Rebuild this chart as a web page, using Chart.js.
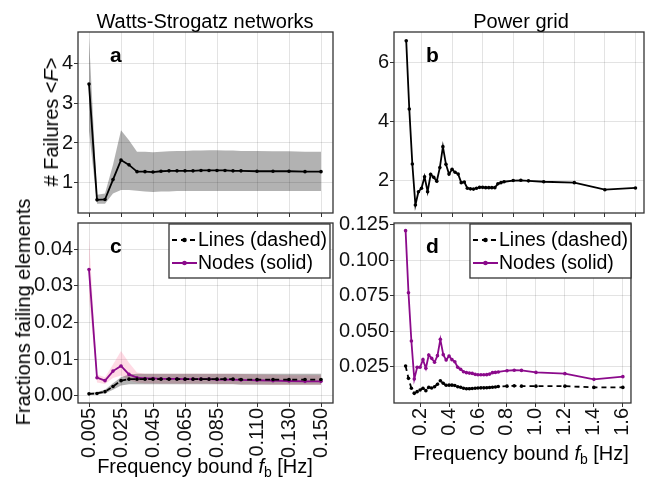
<!DOCTYPE html>
<html>
<head>
<meta charset="utf-8">
<script src="https://cdn.jsdelivr.net/npm/chart.js@4.4.1/dist/chart.umd.min.js"></script>
<style>
  body { margin: 0; background: #fff; }
  #wrap { position: relative; width: 648px; height: 483px; font-family: "Liberation Sans", Arial, sans-serif; color: #000; }
  canvas { position: absolute; left: 0; top: 0; }
  .lbl { position: absolute; font-size: 20px; line-height: 20px; white-space: nowrap; transform: translate(-50%, -50%); }
  .rot { transform: translate(-50%, -50%) rotate(-90deg); }
  .sub { font-size: 0.7em; position: relative; top: 0.3em; }
</style>
</head>
<body>
<div id="wrap">
  <canvas id="ca" width="648" height="483"></canvas>
  <canvas id="cb" width="648" height="483"></canvas>
  <canvas id="cc" width="648" height="483"></canvas>
  <canvas id="cd" width="648" height="483"></canvas>
  <div class="lbl" style="left:205px;top:21px">Watts-Strogatz networks</div>
  <div class="lbl" style="left:521px;top:21px">Power grid</div>
  <div class="lbl rot" style="left:51px;top:122px"># Failures &lt;<i>F</i>&gt;</div>
  <div class="lbl rot" style="left:23px;top:312px">Fractions failing elements</div>
  <div class="lbl" style="left:205px;top:467px">Frequency bound <i>f</i><span class="sub">b</span> [Hz]</div>
  <div class="lbl" style="left:521px;top:454px">Frequency bound <i>f</i><span class="sub">b</span> [Hz]</div>
</div>
<script>
// Watts-Strogatz networks
const wsFreq = [0.005, 0.01, 0.015, 0.02, 0.025, 0.03, 0.035, 0.04, 0.045, 0.05, 0.055, 0.06, 0.065,
  0.07, 0.075, 0.08, 0.085, 0.09, 0.095, 0.1, 0.11, 0.12, 0.13, 0.14, 0.15];
const wsFailures = [3.48, 0.57, 0.58, 1.08, 1.57, 1.45, 1.28, 1.28, 1.27, 1.29, 1.3, 1.3, 1.3,
  1.3, 1.31, 1.31, 1.31, 1.31, 1.3, 1.3, 1.29, 1.29, 1.29, 1.28, 1.28];
const wsFailHi = [4.65, 0.7, 0.73, 1.45, 2.32, 2.07, 1.78, 1.78, 1.77, 1.78, 1.79, 1.8, 1.8,
  1.81, 1.81, 1.82, 1.82, 1.81, 1.81, 1.8, 1.8, 1.79, 1.79, 1.78, 1.78];
const wsFailLo = [2.3, 0.47, 0.47, 0.73, 0.82, 0.82, 0.8, 0.78, 0.77, 0.78, 0.78, 0.79, 0.79,
  0.79, 0.79, 0.79, 0.79, 0.79, 0.79, 0.79, 0.79, 0.79, 0.79, 0.79, 0.79];
const wsLines = [0.0005, 0.0006, 0.0011, 0.0025, 0.0041, 0.0045, 0.0045, 0.0045, 0.0045, 0.0045, 0.0045, 0.0045, 0.0045,
  0.0045, 0.0045, 0.0045, 0.0045, 0.0045, 0.0045, 0.0044, 0.0044, 0.0044, 0.0044, 0.0044, 0.0044];
const wsLinesHi = [0.0008, 0.001, 0.0016, 0.0034, 0.005, 0.0058, 0.006, 0.006, 0.006, 0.006, 0.006, 0.006, 0.006,
  0.006, 0.006, 0.006, 0.006, 0.006, 0.006, 0.006, 0.006, 0.006, 0.006, 0.006, 0.006];
const wsLinesLo = [0.0002, 0.0003, 0.0006, 0.0016, 0.0028, 0.0031, 0.0031, 0.0031, 0.0031, 0.0031, 0.0031, 0.0031, 0.0031,
  0.0031, 0.0031, 0.0031, 0.0031, 0.0031, 0.0031, 0.003, 0.003, 0.003, 0.003, 0.003, 0.003];
const wsNodes = [0.0344, 0.0049, 0.0041, 0.0067, 0.0081, 0.0058, 0.0049, 0.0047, 0.0047, 0.0046, 0.0046, 0.0046, 0.0045,
  0.0045, 0.0045, 0.0045, 0.0044, 0.0044, 0.0044, 0.0043, 0.0042, 0.0041, 0.004, 0.0039, 0.0039];
const wsNodesHi = [0.0433, 0.0058, 0.005, 0.0085, 0.0122, 0.009, 0.0063, 0.006, 0.006, 0.006, 0.006, 0.006, 0.006,
  0.006, 0.006, 0.006, 0.006, 0.006, 0.006, 0.0059, 0.0058, 0.0057, 0.0056, 0.0056, 0.0056];
const wsNodesLo = [0.027, 0.0036, 0.0032, 0.0048, 0.0055, 0.0042, 0.0036, 0.0034, 0.0034, 0.0033, 0.0033, 0.0033, 0.0033,
  0.0033, 0.0033, 0.0033, 0.0032, 0.0032, 0.0032, 0.0031, 0.0031, 0.003, 0.003, 0.003, 0.003];
const wsTicks = [0.005, 0.025, 0.045, 0.065, 0.085, 0.11, 0.13, 0.15];

// Power grid
const pgFreq = [0.1, 0.12, 0.14, 0.16, 0.18, 0.2, 0.22, 0.24, 0.26, 0.28, 0.3, 0.32, 0.34, 0.36, 0.38, 0.4,
  0.42, 0.44, 0.46, 0.48, 0.5, 0.52, 0.54, 0.56, 0.58, 0.6, 0.62, 0.64, 0.66, 0.68, 0.7, 0.72, 0.74,
  0.8, 0.85, 0.9, 1.0, 1.2, 1.4, 1.6];
const pgFailures = [6.73, 4.42, 2.55, 1.16, 1.61, 1.73, 2.12, 1.61, 2.2, 2.1, 1.97, 2.43, 3.14, 2.54, 2.21, 2.37,
  2.27, 2.21, 1.92, 1.94, 1.73, 1.71, 1.7, 1.73, 1.76, 1.76, 1.75, 1.75, 1.75, 1.75, 1.88, 1.92, 1.95,
  1.99, 2.0, 1.98, 1.95, 1.92, 1.68, 1.74];
const pgNodes = [0.121, 0.0772, 0.0431, 0.0163, 0.0246, 0.0246, 0.03, 0.0239, 0.0333, 0.0309, 0.0281, 0.0328, 0.0443, 0.0335, 0.0297, 0.0326,
  0.03, 0.0285, 0.0246, 0.0232, 0.0215, 0.0208, 0.0205, 0.0203, 0.0196, 0.0193, 0.0193, 0.0193, 0.0194, 0.0198, 0.0208, 0.021, 0.0213,
  0.0222, 0.0225, 0.0224, 0.021, 0.0201, 0.0161, 0.018];
const pgLines = [0.0255, 0.0168, 0.0098, 0.0062, 0.0074, 0.0086, 0.0098, 0.0081, 0.0105, 0.01, 0.0109, 0.0126, 0.0151, 0.0133, 0.0119, 0.012,
  0.012, 0.0117, 0.0109, 0.0105, 0.0098, 0.0095, 0.0095, 0.0096, 0.0098, 0.01, 0.0101, 0.0101, 0.0102, 0.0103, 0.0105, 0.0107, 0.011,
  0.0113, 0.0115, 0.0113, 0.0113, 0.0113, 0.0104, 0.0104];
const pgTicks = [0.2, 0.4, 0.6, 0.8, 1.0, 1.2, 1.4, 1.6];

const PURPLE = '#8b0a8b';
const FONT = '"Liberation Sans", Arial, sans-serif';

function pts(xs, ys) {
  return xs.map((x, i) => ({x: x, y: ys[i]}));
}

function series(label, xs, ys, color, dash) {
  return {label: label, data: pts(xs, ys), borderColor: color, backgroundColor: color, borderWidth: 1.8,
    borderDash: dash || [], pointRadius: 1.8, pointBorderWidth: 0, pointBackgroundColor: color, fill: false};
}

function band(xs, hi, lo, color) {
  return [
    {data: pts(xs, hi), borderWidth: 0, pointRadius: 0, fill: false},
    {data: pts(xs, lo), borderWidth: 0, pointRadius: 0, fill: '-1', backgroundColor: color}
  ];
}

const frame = {
  id: 'frame',
  afterDatasetsDraw(chart) {
    const a = chart.chartArea, c = chart.ctx;
    c.save();
    c.strokeStyle = '#333';
    c.lineWidth = 1.3;
    c.strokeRect(a.left, a.top, a.right - a.left, a.bottom - a.top);
    c.font = 'bold 21px ' + FONT;
    c.fillStyle = '#000';
    c.textBaseline = 'alphabetic';
    c.fillText(chart.options.plugins.frame.tag, a.left + 32, a.top + 29.5);
    c.restore();
  }
};

const innerLegend = {
  id: 'innerLegend',
  afterDraw(chart, args, opts) {
    if (!opts.show) return;
    const items = chart.data.datasets.filter(d => d.label);
    const a = chart.chartArea, c = chart.ctx;
    const w = 161, h = 54, right = a.right + opts.dx, left = right - w, top = a.top + 1;
    c.save();
    c.fillStyle = '#fff';
    c.fillRect(left, top, w, h);
    c.strokeStyle = '#333';
    c.lineWidth = 1.3;
    c.strokeRect(left, top, w, h);
    items.forEach((d, i) => {
      const y = top + 16 + i * 23;
      c.strokeStyle = d.borderColor;
      c.lineWidth = 2;
      c.setLineDash(d.borderDash);
      c.beginPath();
      c.moveTo(left + 3, y);
      c.lineTo(left + 28, y);
      c.stroke();
      c.setLineDash([]);
      c.fillStyle = d.borderColor;
      c.beginPath();
      c.arc(left + 15.5, y, 2.3, 0, Math.PI * 2);
      c.fill();
      c.font = '19.5px ' + FONT;
      c.textBaseline = 'middle';
      c.fillStyle = '#000';
      c.fillText(d.label, left + 29, y + 1);
    });
    c.restore();
  }
};

function panel(id, o) {
  const tickFont = {family: FONT, size: 20};
  return new Chart(document.getElementById(id), {
    type: 'line',
    data: {datasets: o.datasets},
    options: {
      responsive: false,
      animation: false,
      events: [],
      layout: {padding: o.pad},
      elements: {line: {tension: 0}},
      plugins: {
        legend: {display: false},
        tooltip: {enabled: false},
        frame: {tag: o.tag},
        innerLegend: {show: !!o.legend, dx: o.legendDx || 0}
      },
      scales: {
        x: {
          type: 'linear', min: o.xMin, max: o.xMax,
          afterBuildTicks: s => { s.ticks = o.xTicks.map(v => ({value: v})); },
          afterFit: s => { s.height = o.xH; },
          ticks: {display: o.xLabels, autoSkip: false, minRotation: 90, maxRotation: 90, padding: 1,
            font: tickFont, color: '#111', callback: v => v.toFixed(o.xDec)},
          grid: {color: 'rgba(0,0,0,0.11)', lineWidth: 1, tickColor: '#333', tickLength: 4},
          border: {display: false}
        },
        y: {
          type: 'linear', min: o.yMin, max: o.yMax,
          afterBuildTicks: s => { s.ticks = o.yTicks.map(v => ({value: v})); },
          afterFit: s => { s.width = o.yW; },
          ticks: {padding: 1, font: tickFont, color: '#111', callback: v => v.toFixed(o.yDec)},
          grid: {color: 'rgba(0,0,0,0.11)', lineWidth: 1, tickColor: '#333', tickLength: 4},
          border: {display: false}
        }
      }
    },
    plugins: [frame, innerLegend]
  });
}

panel('ca', {
  tag: 'a',
  datasets: [series('', wsFreq, wsFailures, '#000')].concat(band(wsFreq, wsFailHi, wsFailLo, 'rgba(0,0,0,0.3)')),
  pad: {left: 0, top: 32, right: 315, bottom: 265},
  xMin: -0.001875, xMax: 0.1575, xTicks: wsTicks, xH: 5, xLabels: false, xDec: 3,
  yMin: 0.24, yMax: 4.79, yTicks: [1, 2, 3, 4], yW: 78, yDec: 0
});

panel('cb', {
  tag: 'b',
  datasets: [series('', pgFreq, pgFailures, '#000')],
  pad: {left: 330, top: 32, right: 2, bottom: 265},
  xMin: 0.02, xMax: 1.656, xTicks: pgTicks, xH: 5, xLabels: false, xDec: 1,
  yMin: 0.89, yMax: 7.03, yTicks: [2, 4, 6], yW: 64, yDec: 0
});

panel('cc', {
  tag: 'c',
  legend: true, legendDx: -3,
  datasets: [
    series('Lines (dashed)', wsFreq, wsLines, '#000', [5, 4]),
    series('Nodes (solid)', wsFreq, wsNodes, PURPLE)
  ].concat(band(wsFreq, wsLinesHi, wsLinesLo, 'rgba(0,0,0,0.3)'))
   .concat(band(wsFreq, wsNodesHi, wsNodesLo, 'rgba(255,110,150,0.25)')),
  pad: {left: 0, top: 223, right: 315, bottom: 20},
  xMin: -0.001875, xMax: 0.1575, xTicks: wsTicks, xH: 60, xLabels: true, xDec: 3,
  yMin: -0.002, yMax: 0.0471, yTicks: [0, 0.01, 0.02, 0.03, 0.04], yW: 78, yDec: 2
});

panel('cd', {
  tag: 'd',
  legend: true, legendDx: 0,
  datasets: [
    series('Lines (dashed)', pgFreq, pgLines, '#000', [5, 4]),
    series('Nodes (solid)', pgFreq, pgNodes, PURPLE)
  ],
  pad: {left: 330, top: 223, right: 2, bottom: 20},
  xMin: 0.02, xMax: 1.656, xTicks: pgTicks, xH: 60, xLabels: true, xDec: 1,
  yMin: -0.0006, yMax: 0.1264, yTicks: [0.025, 0.05, 0.075, 0.1, 0.125], yW: 64, yDec: 3
});
</script>
</body>
</html>
